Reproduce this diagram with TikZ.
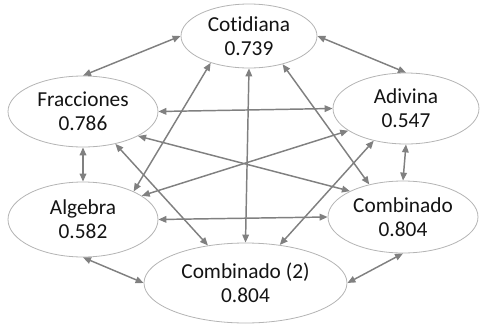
\documentclass[tikz,border=0pt]{standalone}
\usepackage{fontspec}
\setmainfont{Carlito}[Ligatures=NoCommon]
\usetikzlibrary{arrows.meta,shapes.geometric}
\definecolor{edgegray}{RGB}{128,128,128}
\definecolor{ringgray}{RGB}{180,180,180}
\definecolor{txt}{RGB}{20,20,20}
\tikzset{
  oval/.style={ellipse, draw=ringgray, line width=0.6pt, fill=white, inner sep=0pt,
    align=center, text=txt, font=\fontsize{16}{18.2}\selectfont},
  link/.style={draw=edgegray, line width=1.1pt,
    {Triangle[length=6pt,width=5pt]}-{Triangle[length=6pt,width=5pt]}}
}
\begin{document}
\begin{tikzpicture}[x=0.75pt,y=-0.75pt]
\useasboundingbox (0,0) rectangle (480,326);
\node[oval, minimum width=136*0.75pt, minimum height=64*0.75pt] (cot) at (249,36) {Cotidiana\\0.739};
\node[oval, minimum width=150*0.75pt, minimum height=71*0.75pt] (frac) at (83,111.5) {Fracciones\\0.786};
\node[oval, minimum width=146*0.75pt, minimum height=71*0.75pt] (adiv) at (406,108.5) {Adivina\\0.547};
\node[oval, minimum width=150*0.75pt, minimum height=75*0.75pt] (alg) at (83,219.5) {Algebra\\0.582};
\node[oval, minimum width=150*0.75pt, minimum height=72*0.75pt] (comb) at (403,217) {Combinado\\0.804};
\node[oval, minimum width=203*0.75pt, minimum height=80*0.75pt] (comb2) at (245.5,283) {Combinado (2)\\0.804};
\draw[link] (cot.west) -- (frac.north);
\draw[link] (cot.east) -- (adiv.north);
\draw[link] (frac.east) -- (adiv.west);
\draw[link] (frac.south) -- (alg.north);
\draw[link] (adiv.south) -- (comb.north);
\draw[link] (alg.south) -- (comb2.west);
\draw[link] (comb.south) -- (comb2.east);
\draw[link] (alg.east) -- (comb.west);
\draw[link] (cot.south) -- (comb2.north);
\draw[link] (cot.215) -- (alg.29);
\draw[link] (cot.320) -- (comb.136);
\draw[link] (frac.315) -- (comb2.135);
\draw[link] (adiv.225) -- (comb2.48);
\draw[link] (frac.336) -- (comb.154);
\draw[link] (adiv.201) -- (alg.22);
\end{tikzpicture}
\end{document}
